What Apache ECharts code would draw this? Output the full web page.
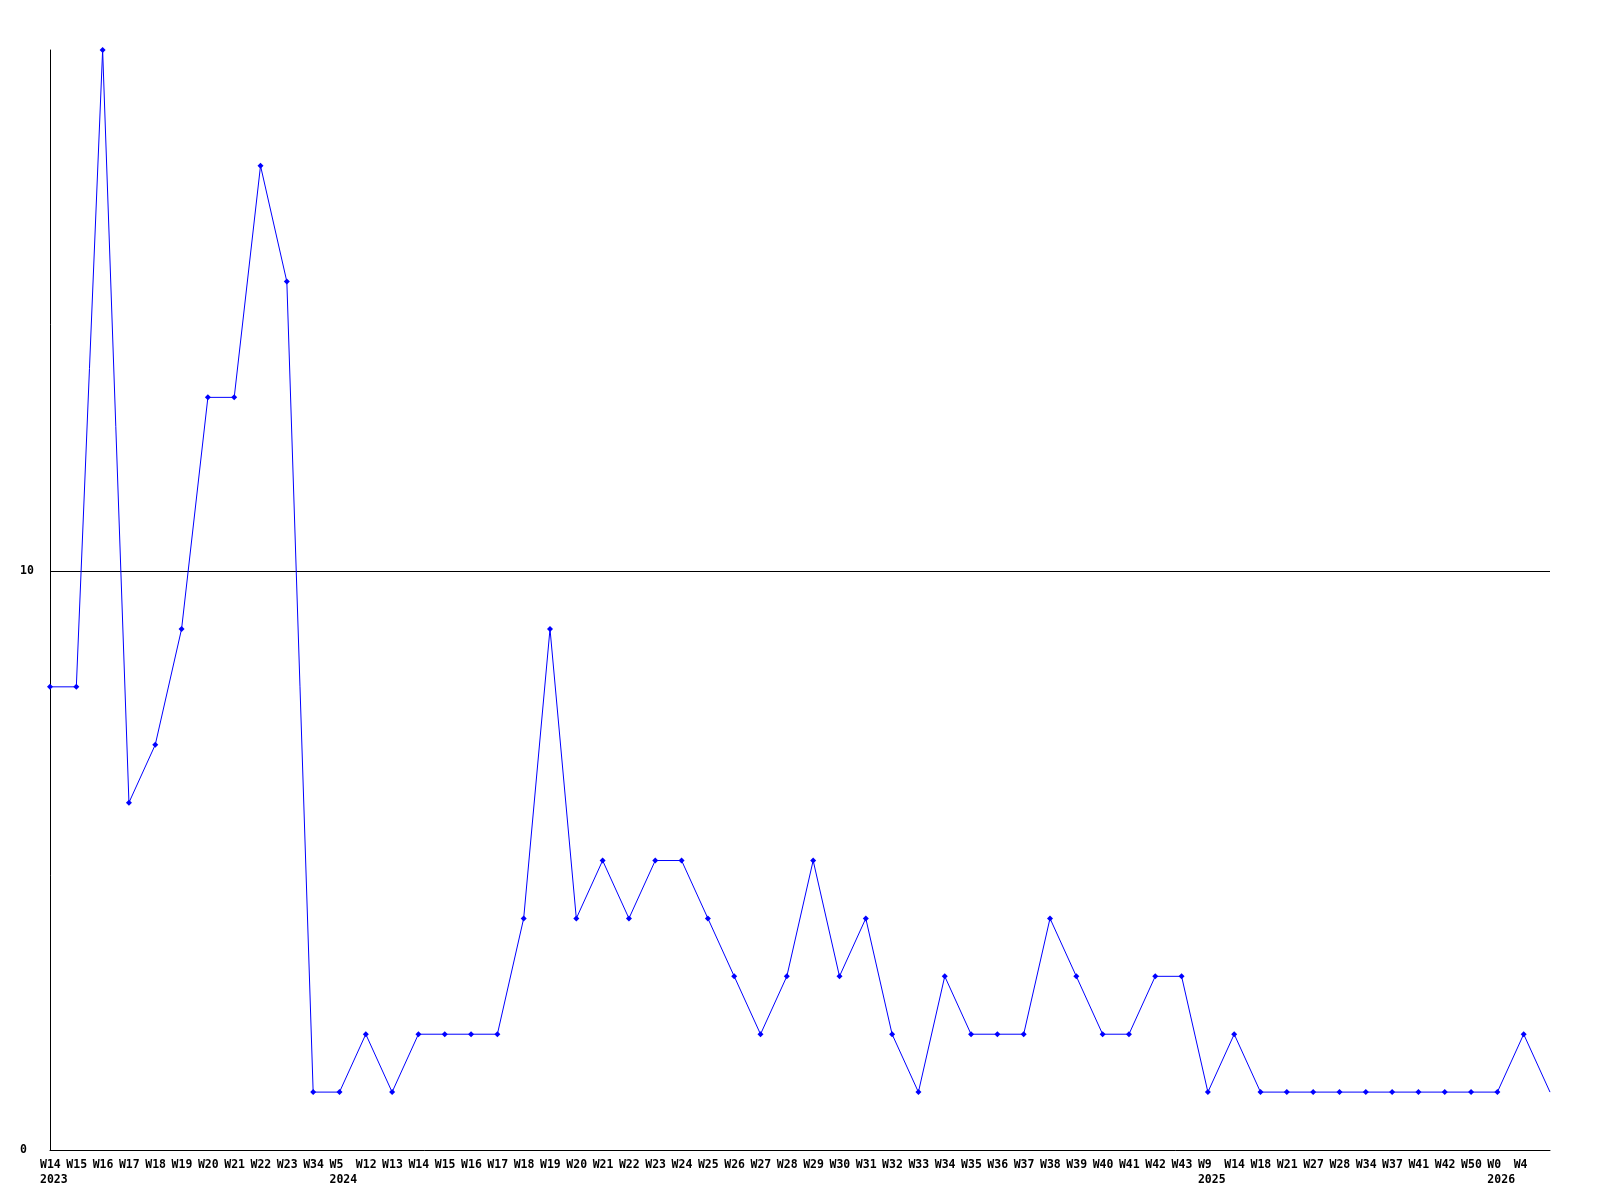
<!DOCTYPE html>
<html>
<head>
<meta charset="utf-8">
<style>html,body{margin:0;padding:0;background:#fff}#c{width:1600px;height:1200px}</style>
<script src="https://cdn.jsdelivr.net/npm/echarts@6/dist/echarts.min.js"></script>
</head>
<body>
<div id="c"></div>
<script>
const weekLabels = ["W14","W15","W16","W17","W18","W19","W20","W21","W22","W23","W34",
  "W5","W12","W13","W14","W15","W16","W17","W18","W19","W20","W21","W22","W23","W24","W25","W26","W27","W28","W29","W30","W31","W32","W33","W34","W35","W36","W37","W38","W39","W40","W41","W42","W43",
  "W9","W14","W18","W21","W27","W28","W34","W37","W41","W42","W50",
  "W0","W4",""];
const yearLabels = ["2023","","","","","","","","","","",
  "2024","","","","","","","","","","","","","","","","","","","","","","","","","","","","","","","","",
  "2025","","","","","","","","","","",
  "2026","",""];
const values = [8,8,19,6,7,9,13,13,17,15,1,
  1,2,1,2,2,2,2,4,9,4,5,4,5,5,4,3,2,3,5,3,4,2,1,3,2,2,2,4,3,2,2,3,3,
  1,2,1,1,1,1,1,1,1,1,1,
  1,2,1];
const yTicks = [0, 10];
const gridLines = [10];

const chart = echarts.init(document.getElementById('c'), null, {renderer: 'canvas'});
const font = '"DejaVu Sans Mono", "Liberation Mono", monospace';
chart.setOption({
  animation: false,
  backgroundColor: '#ffffff',
  grid: {left: 50, right: 50, top: 50, bottom: 50, containLabel: false},
  xAxis: {
    type: 'category',
    boundaryGap: false,
    data: weekLabels.map((w, i) => 'c' + i),
    axisLine: {show: true, lineStyle: {color: '#000', width: 1}},
    axisTick: {show: false},
    splitLine: {show: false},
    axisLabel: {
      interval: 0,
      margin: 8,
      align: 'left',
      verticalAlign: 'top',
      padding: [0, 0, 0, -10],
      color: '#000',
      fontFamily: font,
      fontWeight: 'bold',
      fontSize: 11.5,
      lineHeight: 15,
      formatter: (v, i) => weekLabels[i] + (yearLabels[i] ? '\n' + yearLabels[i] : '')
    }
  },
  yAxis: {
    type: 'value',
    min: 0,
    max: 19,
    interval: 10,
    axisLine: {show: true, lineStyle: {color: '#000', width: 1}},
    axisTick: {show: false},
    splitLine: {show: false},
    axisLabel: {
      margin: 30,
      align: 'left',
      color: '#000',
      fontFamily: font,
      fontWeight: 'bold',
      fontSize: 11.5,
      showMaxLabel: false,
      formatter: v => yTicks.includes(v) ? String(v) : ''
    }
  },
  series: [{
    type: 'line',
    data: values.map((v, i) => i === values.length - 1 ? {value: v, symbol: 'none'} : v),
    symbol: 'diamond',
    symbolSize: 6,
    showAllSymbol: true,
    lineStyle: {color: '#0000ff', width: 1},
    itemStyle: {color: '#0000ff'},
    clip: false,
    z: 3,
    markLine: {
      silent: true,
      symbol: ['none', 'none'],
      label: {show: false},
      lineStyle: {color: '#000', width: 1, type: 'solid'},
      emphasis: {disabled: true},
      z: 1,
      data: gridLines.map(v => ({yAxis: v}))
    }
  }]
});
</script>
</body>
</html>
